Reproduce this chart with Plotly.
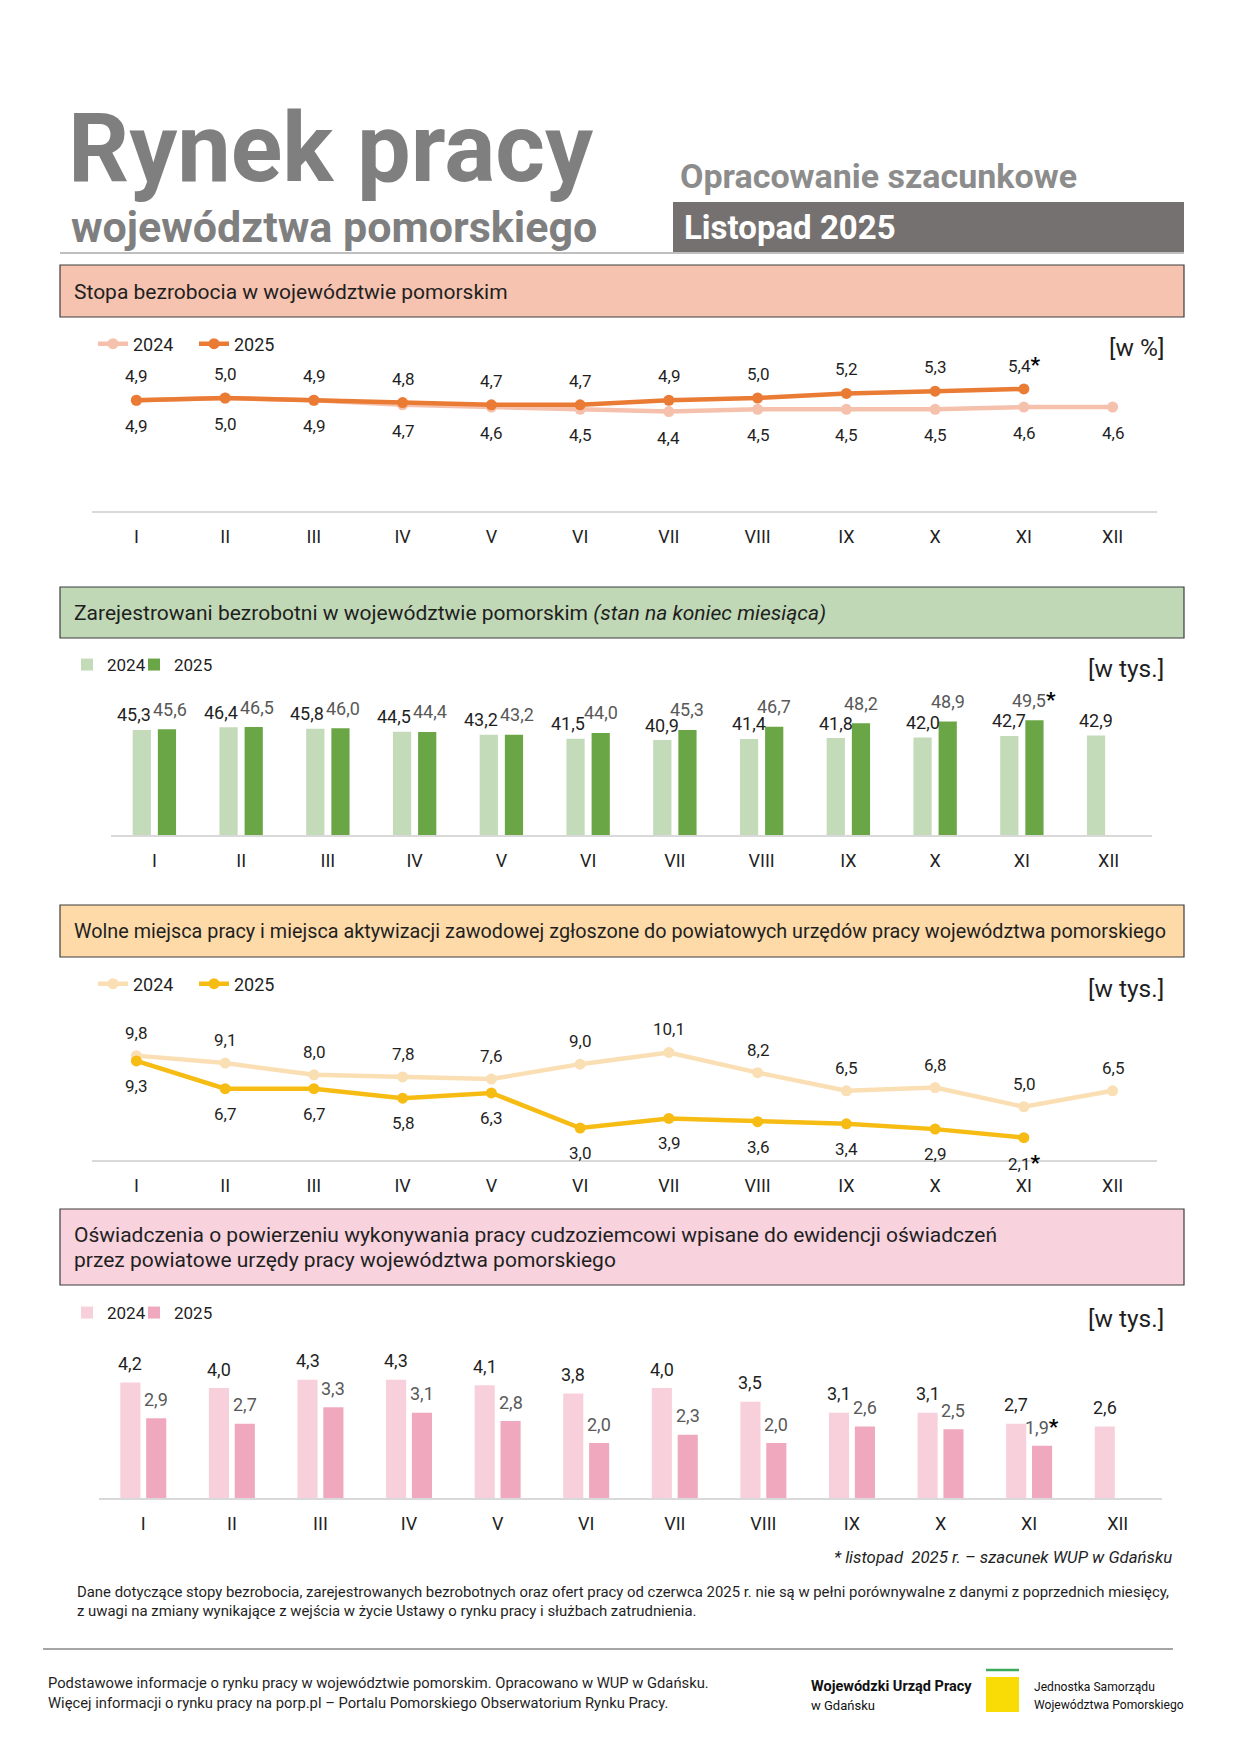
import plotly.graph_objects as go

W, H = 1241, 1755
FONT = "Roboto"
TXT = "#1f1f1f"

# ---------------- data ----------------
months = ["I", "II", "III", "IV", "V", "VI", "VII", "VIII", "IX", "X", "XI", "XII"]
estimate_month = "XI"

rate_2024 = [4.9, 5.0, 4.9, 4.7, 4.6, 4.5, 4.4, 4.5, 4.5, 4.5, 4.6, 4.6]
rate_2025 = [4.9, 5.0, 4.9, 4.8, 4.7, 4.7, 4.9, 5.0, 5.2, 5.3, 5.4]

unemp_2024 = [45.3, 46.4, 45.8, 44.5, 43.2, 41.5, 40.9, 41.4, 41.8, 42.0, 42.7, 42.9]
unemp_2025 = [45.6, 46.5, 46.0, 44.4, 43.2, 44.0, 45.3, 46.7, 48.2, 48.9, 49.5]

offers_2024 = [9.8, 9.1, 8.0, 7.8, 7.6, 9.0, 10.1, 8.2, 6.5, 6.8, 5.0, 6.5]
offers_2025 = [9.3, 6.7, 6.7, 5.8, 6.3, 3.0, 3.9, 3.6, 3.4, 2.9, 2.1]

decl_2024 = [4.2, 4.0, 4.3, 4.3, 4.1, 3.8, 4.0, 3.5, 3.1, 3.1, 2.7, 2.6]
decl_2025 = [2.9, 2.7, 3.3, 3.1, 2.8, 2.0, 2.3, 2.0, 2.6, 2.5, 1.9]

years = ["2024", "2025"]

# ---------------- helpers ----------------
def px(x):
    return x / W

def py(y):
    return 1 - y / H

def fmt(v):
    return f"{v:.1f}".replace(".", ",")

STAR = "<span style='font-size:21px;color:#000000'><b>*</b></span>"

def star(i, s):
    return s + STAR if months[i] == estimate_month else s

idx = list(range(len(months)))

fig = go.Figure()

# ---------- chart 1: unemployment rate (lines) ----------
C1 = dict(x0=92, x1=1157, y0=511, k=22.6, top=7.5)
fig.add_trace(go.Scatter(x=idx[:len(rate_2024)], y=rate_2024, name=years[0], mode="lines+markers",
                         line=dict(color="#F5C1AC", width=4.5), marker=dict(size=11, color="#F5C1AC"),
                         xaxis="x", yaxis="y", legend="legend", hoverinfo="skip", cliponaxis=False,
                         showlegend=True))
fig.add_trace(go.Scatter(x=idx[:len(rate_2025)], y=rate_2025, name=years[1], mode="lines+markers",
                         line=dict(color="#EA7B34", width=4.5), marker=dict(size=11, color="#EA7B34"),
                         xaxis="x", yaxis="y", legend="legend5", hoverinfo="skip", cliponaxis=False))

# ---------- chart 2: registered unemployed (bars) ----------
C2 = dict(x0=111, x1=1152, y0=835, k=2.32, top=65)
BW2, OFF2 = 0.21, 0.145
fig.add_trace(go.Bar(x=idx[:len(unemp_2024)], y=unemp_2024, name=years[0], width=BW2, offset=-OFF2 - BW2 / 2,
                     marker=dict(color="#C3DBB9", line=dict(width=0)), xaxis="x2", yaxis="y2",
                     legend="legend2", hoverinfo="skip"))
fig.add_trace(go.Bar(x=idx[:len(unemp_2025)], y=unemp_2025, name=years[1], width=BW2, offset=OFF2 - BW2 / 2,
                     marker=dict(color="#6AA646", line=dict(width=0)), xaxis="x2", yaxis="y2",
                     legend="legend6", hoverinfo="skip"))

# ---------- chart 3: job offers (lines) ----------
C3 = dict(x0=92, x1=1157, y0=1160, k=10.65, top=14)
fig.add_trace(go.Scatter(x=idx[:len(offers_2024)], y=offers_2024, name=years[0], mode="lines+markers",
                         line=dict(color="#FBDFB4", width=4.5), marker=dict(size=11, color="#FBDFB4"),
                         xaxis="x3", yaxis="y3", legend="legend3", hoverinfo="skip", cliponaxis=False))
fig.add_trace(go.Scatter(x=idx[:len(offers_2025)], y=offers_2025, name=years[1], mode="lines+markers",
                         line=dict(color="#F6BC14", width=4.5), marker=dict(size=11, color="#F6BC14"),
                         xaxis="x3", yaxis="y3", legend="legend7", hoverinfo="skip", cliponaxis=False))

# ---------- chart 4: declarations (bars) ----------
C4 = dict(x0=99, x1=1162, y0=1498, k=27.5, top=6)
BW4, OFF4 = 0.227, 0.146
fig.add_trace(go.Bar(x=idx[:len(decl_2024)], y=decl_2024, name=years[0], width=BW4, offset=-OFF4 - BW4 / 2,
                     marker=dict(color="#F7D0DC", line=dict(width=0)), xaxis="x4", yaxis="y4",
                     legend="legend4", hoverinfo="skip"))
fig.add_trace(go.Bar(x=idx[:len(decl_2025)], y=decl_2025, name=years[1], width=BW4, offset=OFF4 - BW4 / 2,
                     marker=dict(color="#EFA8BD", line=dict(width=0)), xaxis="x4", yaxis="y4",
                     legend="legend8", hoverinfo="skip"))

# ---------- axes ----------
def xax(c, n):
    return dict(domain=[px(c["x0"]), px(c["x1"])], range=[-0.5, len(months) - 0.5], anchor="y" + n,
                tickvals=idx, ticktext=months, showgrid=False, zeroline=False,
                showline=True, linecolor="#d9d9d9", linewidth=2, ticks="",
                ticklabelstandoff=8, tickfont=dict(size=18, color=TXT, family=FONT), fixedrange=True)

def yax(c, n):
    top_px = c["y0"] - c["top"] * c["k"]
    return dict(domain=[py(c["y0"]), py(top_px)], range=[0, c["top"]], visible=False, anchor="x" + n,
                showgrid=False, zeroline=False, fixedrange=True)

layout = dict(
    width=W, height=H, autosize=False, margin=dict(l=0, r=0, t=0, b=0),
    paper_bgcolor="white", plot_bgcolor="rgba(0,0,0,0)", barmode="overlay",
    font=dict(family=FONT, color=TXT), showlegend=True,
    xaxis=xax(C1, ""), yaxis=yax(C1, ""),
    xaxis2=xax(C2, "2"), yaxis2=yax(C2, "2"),
    xaxis3=xax(C3, "3"), yaxis3=yax(C3, "3"),
    xaxis4=xax(C4, "4"), yaxis4=yax(C4, "4"),
)

def leg(x, y, size=18):
    return dict(x=px(x), y=py(y), xanchor="left", yanchor="middle", orientation="h",
                font=dict(size=size, color=TXT, family=FONT), bgcolor="rgba(0,0,0,0)",
                itemwidth=30, tracegroupgap=0, itemclick=False, itemdoubleclick=False)

# 2024 entries
layout["legend"] = leg(93, 344)
layout["legend2"] = leg(67, 665, 17)
layout["legend3"] = leg(93, 984)
layout["legend4"] = leg(67, 1313, 17)
# 2025 entries
layout["legend5"] = leg(194, 344)
layout["legend6"] = leg(134, 665, 17)
layout["legend7"] = leg(194, 984)
layout["legend8"] = leg(134, 1313, 17)
fig.update_layout(**layout)

# ---------- shapes ----------
shapes = []
def rect(x0, y0, x1, y1, fill, line=None, lw=0):
    shapes.append(dict(type="rect", xref="paper", yref="paper", x0=px(x0), x1=px(x1), y0=py(y1), y1=py(y0),
                       fillcolor=fill, line=dict(color=line or fill, width=lw), layer="below"))

def hline(x0, x1, y, color, w):
    shapes.append(dict(type="line", xref="paper", yref="paper", x0=px(x0), x1=px(x1), y0=py(y), y1=py(y),
                       line=dict(color=color, width=w), layer="below"))

hline(60, 1184, 253, "#bfbfbf", 2)
rect(673, 202, 1184, 252, "#767171")
BORDER = "#3c3c3c"
rect(60, 265, 1184, 317, "#F5C3AF", BORDER, 1.2)
rect(60, 587, 1184, 638, "#C0D8B6", BORDER, 1.2)
rect(60, 905, 1184, 957, "#FDDAA8", BORDER, 1.2)
rect(60, 1209, 1184, 1285, "#F8D3DE", BORDER, 1.2)
hline(43, 1173, 1649, "#a6a6a6", 2)
rect(986, 1677, 1019, 1712, "#F9DC06")
hline(986, 1019, 1670, "#3BAA5C", 2.5)
fig.update_layout(shapes=shapes)

# ---------- annotations ----------
anns = []
def T(text, x, y, size, color=TXT, xanchor="left", yanchor="middle"):
    anns.append(dict(text=text, x=px(x), y=py(y), xref="paper", yref="paper", showarrow=False,
                     xanchor=xanchor, yanchor=yanchor, font=dict(size=size, color=color, family=FONT)))

def D(text, xa, x, y, yshift, size, color=TXT, xshift=0):
    n = "" if xa == 1 else str(xa)
    anns.append(dict(text=text, x=x, y=y, xref="x" + n, yref="y" + n, showarrow=False,
                     xanchor="center", yanchor="middle", yshift=yshift, xshift=xshift,
                     font=dict(size=size, color=color, family=FONT)))

# header
T("<b>Rynek pracy</b>", 66, 148, 95.5, "#7f7f7f")
T("<b>województwa pomorskiego</b>", 69, 227, 43, "#7f7f7f")
T("<b>Opracowanie szacunkowe</b>", 678, 176, 34, "#8c8c8c")
T("<b>Listopad 2025</b>", 682, 228, 33, "white")

# section titles
T("Stopa bezrobocia w województwie pomorskim", 72, 292, 21)
T("Zarejestrowani bezrobotni w województwie pomorskim <i>(stan na koniec miesiąca)</i>", 72, 613, 21)
T("Wolne miejsca pracy i miejsca aktywizacji zawodowej zgłoszone do powiatowych urzędów pracy województwa pomorskiego",
  72, 932, 19.8)
T("Oświadczenia o powierzeniu wykonywania pracy cudzoziemcowi wpisane do ewidencji oświadczeń", 72, 1235, 21)
T("przez powiatowe urzędy pracy województwa pomorskiego", 72, 1260, 21)

# units
T("[w %]", 1166, 348, 24.5, xanchor="right")
T("[w tys.]", 1166, 668, 24.5, xanchor="right")
T("[w tys.]", 1166, 988, 24.5, xanchor="right")
T("[w tys.]", 1166, 1318, 24.5, xanchor="right")

# data labels chart 1
for i, v in enumerate(rate_2025):
    D(star(i, fmt(v)), 1, i, v, 24, 17)
for i, v in enumerate(rate_2024):
    D(fmt(v), 1, i, v, -26, 17)

# data labels chart 2
for i, v in enumerate(unemp_2024):
    close = i < len(unemp_2025) and abs(unemp_2025[i] - v) < 3
    D(fmt(v), 2, i - OFF2, v, 15, 18, TXT, -8 if close else 0)
for i, v in enumerate(unemp_2025):
    close = abs(unemp_2024[i] - v) < 1
    D(star(i, fmt(v)), 2, i + OFF2, v, 20, 18, "#595959", 3 if close else 0)

# data labels chart 3
for i, v in enumerate(offers_2024):
    D(fmt(v), 3, i, v, 23, 17)
for i, v in enumerate(offers_2025):
    D(star(i, fmt(v)), 3, i, v, -25, 17)

# data labels chart 4
for i, v in enumerate(decl_2024):
    D(fmt(v), 4, i - OFF4, v, 19, 18)
for i, v in enumerate(decl_2025):
    D(star(i, fmt(v)), 4, i + OFF4, v, 19, 18, "#595959")

# footnotes
anns.append(dict(text="<i>* listopad  2025 r. – szacunek WUP w Gdańsku</i>", x=px(1174), y=py(1557),
                 xref="paper", yref="paper", showarrow=False, xanchor="right", yanchor="middle",
                 font=dict(size=16.8, color=TXT, family=FONT)))
T("Dane dotyczące stopy bezrobocia, zarejestrowanych bezrobotnych oraz ofert pracy od czerwca 2025 r. "
  "nie są w pełni porównywalne z danymi z poprzednich miesięcy,", 75, 1592, 14.9)
T("z uwagi na zmiany wynikające z wejścia w życie Ustawy o rynku pracy i służbach zatrudnienia.", 75, 1611, 14.9)

T("Podstawowe informacje o rynku pracy w województwie pomorskim. Opracowano w WUP w Gdańsku.", 46, 1683, 14.75)
T("Więcej informacji o rynku pracy na porp.pl – Portalu Pomorskiego Obserwatorium Rynku Pracy.", 46, 1703, 14.75)

T("<b>Wojewódzki Urząd Pracy</b>", 809, 1686, 14.5, "#111111")
T("w Gdańsku", 809, 1705, 13, "#111111")
T("Jednostka Samorządu", 1032, 1687, 12.1, "#111111")
T("Województwa Pomorskiego", 1032, 1705, 12.1, "#111111")

fig.update_layout(annotations=anns)

fig.write_html("out.html", config={"displayModeBar": False},
               post_script="document.body.style.margin='0px';")
